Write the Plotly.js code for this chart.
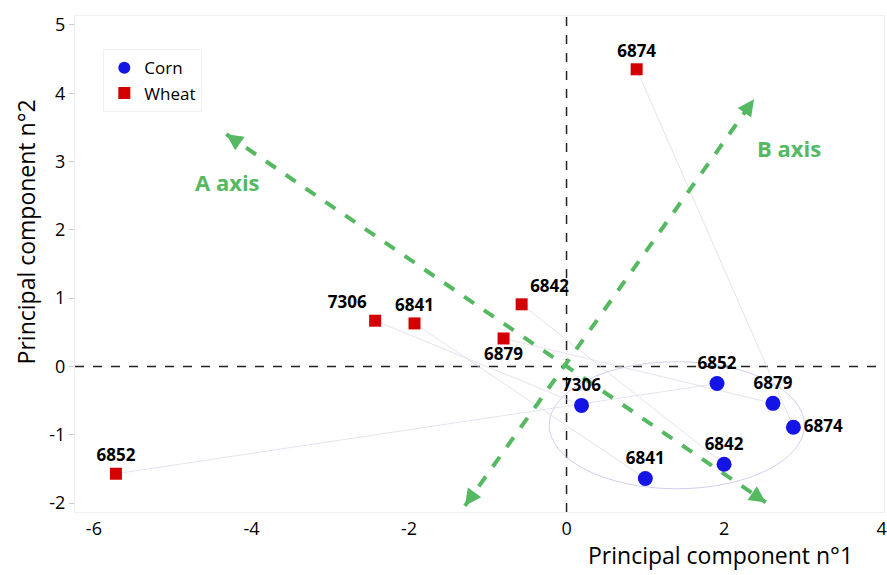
<!DOCTYPE html>
<html><head><meta charset="utf-8">
<script src="https://cdn.plot.ly/plotly-3.0.1.min.js"></script>
<style>html,body{margin:0;padding:0;background:#fff}#c{width:887px;height:575px}</style>
</head><body><div id="c"></div>
<script>
// Data
const labels = ["6874","7306","6841","6842","6879","6852"];
const wheatX = [0.89, -2.43, -1.93, -0.57, -0.80, -5.72];
const wheatY = [4.35, 0.67, 0.63, 0.91, 0.41, -1.57];
const wheatPos = ["top center","top left","top center","top right","bottom center","top center"];
const cornLabels = ["6874","7306","6841","6842","6879","6852"];
const cornX = [2.88, 0.19, 1.00, 2.00, 2.62, 1.91];
const cornY = [-0.89, -0.57, -1.64, -1.43, -0.54, -0.25];
const cornPos = ["middle right","top center","top center","top center","top center","top center"];
const xTicks = [-6, -4, -2, 0, 2, 4];
const xTickText = ["-6", "-4", "-2", "0", "2", "4"];
const yTicks = [-2, -1, 0, 1, 2, 3, 4, 5];
const yTickText = ["-2", "-1", "0", "1", "2", "3", "4", "5"];
// Interpretation axes (arrow ends)
const axisA = {x: [-4.32, 2.53], y: [3.40, -1.99]};
const axisB = {x: [-1.29, 2.38], y: [-2.04, 3.91]};
// Corn group ellipse bounds
const ellX = [-0.22, 3.02], ellY = [-1.79, 0.07];

const green = '#55B962';
const linkX = [], linkY = [];
labels.forEach((l, i) => {
  const j = cornLabels.indexOf(l);
  linkX.push(wheatX[i], cornX[j], null);
  linkY.push(wheatY[i], cornY[j], null);
});

const lblFont = {family: 'Open Sans, sans-serif', size: 17, color: '#000', weight: 'bold'};
const traces = [
  {x: linkX, y: linkY, mode: 'lines', line: {color: 'rgba(215,215,232,0.7)', width: 1}, showlegend: false, hoverinfo: 'skip'},
  {x: axisA.x, y: axisA.y, mode: 'lines', line: {color: green, width: 4, dash: 'dash'}, showlegend: false, hoverinfo: 'skip'},
  {x: axisB.x, y: axisB.y, mode: 'lines', line: {color: green, width: 4, dash: 'dash'}, showlegend: false, hoverinfo: 'skip'},
  {x: cornX, y: cornY, text: cornLabels, textposition: cornPos, mode: 'markers+text', name: 'Corn',
   marker: {color: '#1414E6', size: 15, symbol: 'circle'}, textfont: lblFont},
  {x: wheatX, y: wheatY, text: labels, textposition: wheatPos, mode: 'markers+text', name: 'Wheat',
   marker: {color: '#D40000', size: 12, symbol: 'square'}, textfont: lblFont}
];

const ppx = 78.9, ppy = 68.3;
function head(ax, idx, other) {
  const dxp = (ax.x[idx] - ax.x[other]) * ppx, dyp = -(ax.y[idx] - ax.y[other]) * ppy;
  const L = Math.hypot(dxp, dyp);
  return {x: ax.x[idx], y: ax.y[idx], xref: 'x', yref: 'y', ax: -dxp / L * 16, ay: -dyp / L * 16,
    showarrow: true, arrowhead: 2, arrowsize: 1.1, arrowwidth: 3, arrowcolor: green, text: ''};
}

const layout = {
  width: 887, height: 575,
  margin: {l: 75, r: 3, t: 16, b: 63},
  paper_bgcolor: '#fff', plot_bgcolor: '#fff',
  font: {family: 'Open Sans, sans-serif', color: '#000'},
  xaxis: {range: [-6.24, 4.03], tickvals: xTicks, ticktext: xTickText, showgrid: false, zeroline: false,
    showline: true, mirror: true, linecolor: '#efefef', linewidth: 1, ticks: '', tickfont: {size: 18}},
  yaxis: {range: [-2.13, 5.13], tickvals: yTicks, ticktext: yTickText, showgrid: false, zeroline: false,
    showline: true, mirror: true, linecolor: '#efefef', linewidth: 1, ticks: 'outside', ticklen: 5, tickcolor: '#ccc',
    tickfont: {size: 18}},
  legend: {x: 0.035, y: 0.933, xanchor: 'left', yanchor: 'top', bgcolor: '#fff', bordercolor: '#f0f0f0', borderwidth: 1,
    font: {size: 17}, itemsizing: 'constant'},
  shapes: [
    {type: 'line', xref: 'x', yref: 'paper', x0: 0, x1: 0, y0: 0, y1: 1, line: {color: '#222', width: 1.5, dash: 'dash'}, layer: 'below'},
    {type: 'line', xref: 'paper', yref: 'y', x0: 0, x1: 1, y0: 0, y1: 0, line: {color: '#222', width: 1.5, dash: 'dash'}, layer: 'below'},
    {type: 'circle', xref: 'x', yref: 'y', x0: ellX[0], x1: ellX[1], y0: ellY[0], y1: ellY[1], line: {color: 'rgba(195,195,240,0.8)', width: 1}, layer: 'below'}
  ],
  annotations: [
    head(axisA, 0, 1), head(axisA, 1, 0), head(axisB, 0, 1), head(axisB, 1, 0),
    {x: -4.3, y: 2.7, xref: 'x', yref: 'y', text: 'A axis', showarrow: false, font: {size: 22, color: green, weight: 'bold'}},
    {x: 2.82, y: 3.2, xref: 'x', yref: 'y', text: 'B axis', showarrow: false, font: {size: 22, color: green, weight: 'bold'}},
    {x: 0.964, y: 0, xref: 'paper', yref: 'paper', xanchor: 'right', yanchor: 'middle', yshift: -43, text: 'Principal component n°1', showarrow: false, font: {size: 23}},
    {x: -0.061, y: 0.565, xref: 'paper', yref: 'paper', xanchor: 'center', yanchor: 'middle', textangle: -90, text: 'Principal component n°2', showarrow: false, font: {size: 23}}
  ]
};

Plotly.newPlot('c', traces, layout, {displayModeBar: false, staticPlot: true});
</script></body></html>
